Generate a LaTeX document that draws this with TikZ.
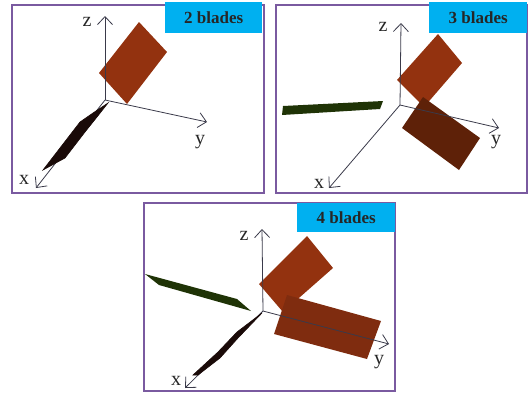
\documentclass[tikz,border=0pt]{standalone}
\usepackage{fontspec}
\setmainfont{Liberation Serif}
\usetikzlibrary{arrows.meta}
\definecolor{framepurple}{HTML}{7A5AA0}
\definecolor{tagblue}{HTML}{00B0F0}
\definecolor{bladered}{HTML}{93320F}
\definecolor{bladedark}{HTML}{5E2108}
\definecolor{blademid}{HTML}{7F2C0F}
\definecolor{bladegreen}{HTML}{1F3306}
\definecolor{bladeblack}{HTML}{1A0A08}
\definecolor{axisgrey}{HTML}{3A3A4A}
\tikzset{
    panel/.style={
        draw=framepurple,
        line width=2pt,
        anchor=north west,
        inner sep=0pt
    },
    tag/.style={
        fill=tagblue,
        anchor=north west,
        inner sep=0pt,
        minimum height=31pt,
        font=\fontsize{17}{18}\selectfont\bfseries,
        text=black!85
    },
    axis/.style={-{Straight Barb[length=8pt,width=15pt]}, draw=axisgrey, line width=0.8pt},
    axlabel/.style={font=\fontsize{20}{21}\selectfont, text=black!85, inner sep=0pt},
    edgeblade/.style={fill=bladeblack, draw=bladeblack, line width=0.6pt}
}

\begin{document}
\begin{tikzpicture}[x=1pt,y=-1pt]
\useasboundingbox (0,0) rectangle (529,392);

\node[panel, minimum width=252pt, minimum height=188pt] (p1) at (10.5,4) {};
\fill[bladered] (139,22) -- (167,52) -- (127,104) -- (99,73) -- cycle;
\coordinate (o1) at (105,100);
\coordinate (x1) at (36,188);
\coordinate (y1) at (207,122);
\coordinate (z1) at (105,16);
\draw[axis] (o1) -- (x1);
\draw[axis] (o1) -- (y1);
\draw[axis] (o1) -- (z1);
\path[edgeblade] (108,103) -- (93,113) -- (80,122) -- (43,170) -- (65,158) -- (85,132) -- (97,117) -- cycle;
\node[tag, minimum width=97pt] (t1) at (165,2) {2 blades};
\node[axlabel] (lx1) at (24,180) {x};
\node[axlabel] (ly1) at (200,142) {y};
\node[axlabel] (lz1) at (87,22) {z};

\node[panel, minimum width=251pt, minimum height=188pt] (p2) at (275,4) {};
\fill[bladered] (438,34) -- (462,63) -- (424,107) -- (397,80) -- cycle;
\fill[bladedark] (423,97) -- (480,138) -- (459,170) -- (402,128) -- cycle;
\fill[bladegreen] (283,106) -- (383,101) -- (380,109) -- (282,115) -- cycle;
\coordinate (o2) at (400,105);
\coordinate (x2) at (329,188);
\coordinate (y2) at (499,128);
\coordinate (z2) at (401,23);
\draw[axis] (o2) -- (x2);
\draw[axis] (o2) -- (y2);
\draw[axis] (o2) -- (z2);
\node[tag, minimum width=98pt] (t2) at (429,2) {3 blades};
\node[axlabel] (lx2) at (319,184) {x};
\node[axlabel] (ly2) at (496,142) {y};
\node[axlabel] (lz2) at (383,27) {z};

\node[panel, minimum width=251pt, minimum height=188pt] (p3) at (143,202) {};
\fill[bladered] (307,236) -- (333,268) -- (283,312) -- (259,284) -- cycle;
\fill[blademid] (287,295) -- (381,321) -- (367,359) -- (274,334) -- cycle;
\fill[bladegreen] (145,274) -- (237,299) -- (251,311) -- (159,285) -- cycle;
\coordinate (o3) at (263,311);
\coordinate (x3) at (185,388);
\coordinate (y3) at (389,344);
\coordinate (z3) at (262,229);
\draw[axis] (o3) -- (x3);
\draw[axis] (o3) -- (y3);
\draw[axis] (o3) -- (z3);
\path[edgeblade] (262,313) -- (237,332) -- (218,352) -- (193,375) -- (198,375) -- (220,358) -- (238,338) -- cycle;
\node[tag, minimum width=98pt, minimum height=29pt] (t3) at (297,203) {4 blades};
\node[axlabel] (lx3) at (176,381) {x};
\node[axlabel] (ly3) at (379,362) {y};
\node[axlabel] (lz3) at (244,236) {z};
\end{tikzpicture}
\end{document}
